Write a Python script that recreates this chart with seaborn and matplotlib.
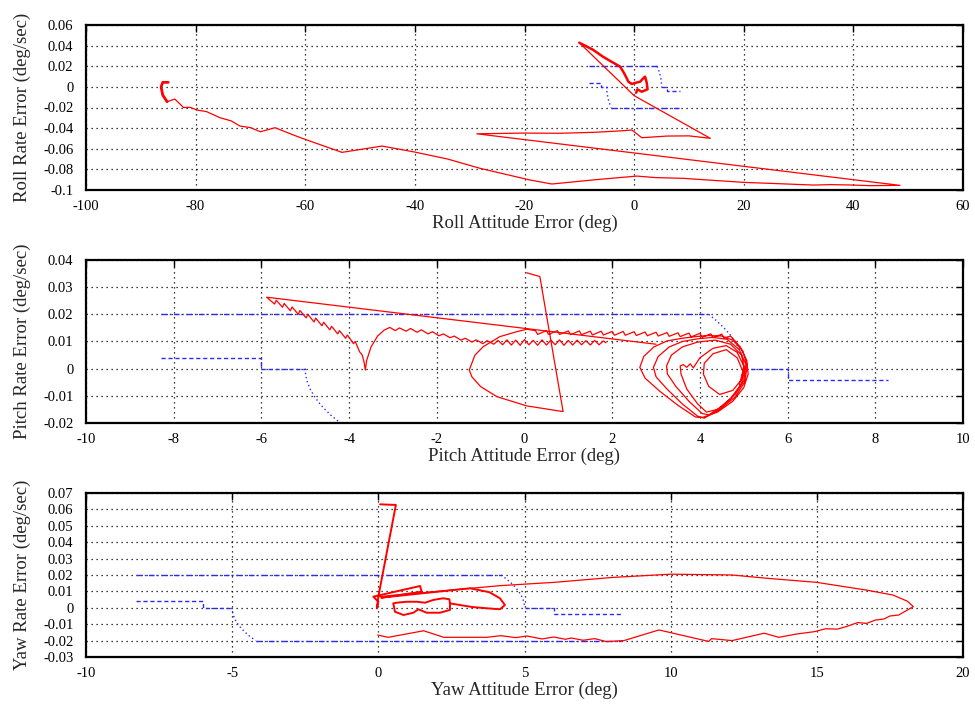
import matplotlib
matplotlib.use("Agg")
import matplotlib.pyplot as plt
import seaborn as sns

# --- Switching lines (same for all three axes) ---
SW_UP_X = [-8.3, 4.2]
SW_UP_Y = [0.02, 0.02]
SW_UP_CURVE_X = [4.2, 4.39, 4.55, 4.69, 4.80, 4.89, 4.95, 4.99, 5.0]
SW_UP_CURVE_Y = [0.02, 0.0175, 0.015, 0.0125, 0.01, 0.0075, 0.005, 0.0025, 0.0]
SW_UP_DEAD_X = [5.0, 6.0, 6.0, 8.3]
SW_UP_DEAD_Y = [0.0, 0.0, -0.004, -0.004]
SW_LO_DEAD_X = [-8.3, -6.0, -6.0, -5.0]
SW_LO_DEAD_Y = [0.004, 0.004, 0.0, 0.0]
SW_LO_CURVE_X = [-5.0, -4.99, -4.95, -4.89, -4.80, -4.69, -4.55, -4.39, -4.2]
SW_LO_CURVE_Y = [0.0, -0.0025, -0.005, -0.0075, -0.01, -0.0125, -0.015, -0.0175, -0.02]
SW_LO_X = [-4.2, 8.3]
SW_LO_Y = [-0.02, -0.02]

# --- Roll ---
ROLL_HOOK_X = [-85.0, -86.0, -86.3, -86.0, -85.2]
ROLL_HOOK_Y = [0.0044, 0.0044, 0.0000, -0.0080, -0.0144]
ROLL_X = [-85.2, -83.8, -82.2, -81.0, -79.8, -78.0, -75.5, -73.5, -71.9, -70.0,
          -68.2, -65.5, -62.0, -59.7, -53.3, -46.0, -40.3, -34.0, -28.1, -19.0,
          -15.0, -7.0, 0.5, 4.0, 9.0, 14.0, 20.0, 26.0, 32.7, 36.0, 40.0, 43.0, 48.5,
          -28.7, -20.0, -13.5, -7.0, -1.95, -0.42, 1.4, 5.96, 10.0, 13.9,
          0.0, -10.0]
ROLL_Y = [-0.0144, -0.0118, -0.0200, -0.0198, -0.0224, -0.0240, -0.0300, -0.0330, -0.0380, -0.0395,
          -0.0435, -0.0396, -0.0470, -0.0515, -0.0635, -0.0574, -0.0629, -0.0700, -0.0790, -0.0903,
          -0.0942, -0.0900, -0.0865, -0.0880, -0.0887, -0.0905, -0.0926, -0.0938, -0.0952, -0.0948, -0.0952, -0.0958, -0.0955,
          -0.0455, -0.0448, -0.0450, -0.0440, -0.0425, -0.0418, -0.0493, -0.0477, -0.0475, -0.0499,
          -0.0085, 0.0428]
ROLL_LOOP_X = [-10.0, -7.5, -5.7, -4.0, -2.55, -1.8, -1.04, -0.42, 0.3, 1.1, 1.6, 2.0,
               2.3, 2.45, 1.4, 0.6, 0.36]
ROLL_LOOP_Y = [0.0428, 0.0360, 0.0293, 0.0240, 0.0196, 0.0130, 0.0050, 0.0028, 0.0040, 0.0050, 0.0080, 0.0099,
               0.0040, -0.0024, -0.0047, -0.0024, -0.0057]

# --- Pitch ---
PITCH_A_X = [0.05, 0.35, 0.88, 0.05, -0.63, -1.00, -1.20, -1.26, -1.13, -0.94, -0.56, -0.18, 0.05,
             0.25, 0.30, 0.50, 0.55, 0.75, 0.80, 1.00, 1.05, 1.25, 1.30, 1.50, 1.55, 1.75, 1.80,
             2.00, 2.05, 2.25, 2.30, 2.50, 2.55, 2.75, 2.80, 3.00, 3.05, 3.25, 3.30, 3.50, 3.55,
             3.75, 3.80, 4.00, 4.05, 4.25, 4.30, 4.50, 4.55, 4.70,
             4.92, 5.07, 5.10, 5.00, 4.75, 4.40, 4.05, 3.90, 3.50, 3.10, 2.75, 2.63, 2.72, 2.95,
             3.25, 3.60, 3.90, 4.20, 4.50, 4.75, 4.98, 5.08, 5.02, 4.80, 4.45, 4.10, 3.95, 3.60,
             3.25, 3.00, 2.94, 3.05, 3.30, 3.60, 3.95, 4.30, 4.62, 4.90, 5.05, 5.00, 4.80, 4.50,
             4.20, 4.05, 3.75, 3.45, 3.26, 3.24, 3.35, 3.60, 3.95, 4.35, 4.70, 4.95, 5.02, 4.95,
             4.70, 4.40, 4.15, 3.95, 3.70, 3.57, 3.55, 3.62, 3.70, 3.78, 3.85, 4.00, 4.30, 4.60,
             4.85, 5.00, 4.95, 4.75, 4.45, 4.20, 4.08, 4.10, 4.30, 4.60, 4.85, 4.98, 4.90]
PITCH_A_Y = [0.0353, 0.0339, -0.0158, -0.0137, -0.0103, -0.0066, -0.0030, -0.0005, 0.0050, 0.0081, 0.0118, 0.0136, 0.0145,
             0.0140, 0.0126, 0.0140, 0.0126, 0.0140, 0.0126, 0.0139, 0.0125, 0.0139, 0.0125, 0.0138, 0.0124,
             0.0138, 0.0124, 0.0137, 0.0123, 0.0137, 0.0123, 0.0136, 0.0122, 0.0135, 0.0121, 0.0134, 0.0120,
             0.0133, 0.0119, 0.0132, 0.0118, 0.0131, 0.0117, 0.0130, 0.0116, 0.0128, 0.0114, 0.0127, 0.0113, 0.0120,
             0.0080, 0.0030, -0.0020, -0.0070, -0.0120, -0.0160, -0.0180, -0.0178, -0.0135, -0.0085, -0.0035, 0.0005, 0.0045, 0.0080,
             0.0102, 0.0112, 0.0118, 0.0122, 0.0120, 0.0105, 0.0065, 0.0010, -0.0050, -0.0105, -0.0150, -0.0182, -0.0175, -0.0130,
             -0.0075, -0.0030, 0.0005, 0.0045, 0.0080, 0.0100, 0.0110, 0.0115, 0.0108, 0.0070, 0.0015, -0.0045, -0.0095, -0.0140,
             -0.0170, -0.0165, -0.0120, -0.0065, -0.0020, 0.0010, 0.0050, 0.0080, 0.0098, 0.0105, 0.0090, 0.0050, 0.0000, -0.0055,
             -0.0110, -0.0150, -0.0160, -0.0130, -0.0075, -0.0020, 0.0010, 0.0015, 0.0005, 0.0018, 0.0003, 0.0040, 0.0075, 0.0085,
             0.0060, 0.0010, -0.0040, -0.0080, -0.0095, -0.0065, -0.0020, 0.0020, 0.0055, 0.0070, 0.0040, -0.0010, -0.0060]
PITCH_B_X = [3.0, -5.88, -5.70, -5.66, -5.52, -5.48, -5.34, -5.30, -5.16, -5.12, -4.98, -4.94,
             -4.80, -4.76, -4.62, -4.58, -4.44, -4.40, -4.26, -4.22, -4.08, -4.04, -3.90, -3.86,
             -3.76, -3.70, -3.66, -3.63,
             -3.60, -3.50, -3.35, -3.20, -3.07, -2.95, -2.85, -2.70, -2.60, -2.45, -2.35, -2.20,
             -2.10, -1.95, -1.85, -1.70, -1.60, -1.45, -1.35, -1.20, -1.10, -0.95, -0.85, -0.70, -0.60,
             -0.50, -0.40, -0.30, -0.20, -0.10, 0.00, 0.10, 0.20, 0.30, 0.40, 0.50, 0.60, 0.70,
             0.80, 0.90, 1.00, 1.10, 1.20, 1.30, 1.40, 1.50, 1.60, 1.70, 1.80, 1.86]
PITCH_B_Y = [0.0090, 0.0263, 0.0238, 0.0252, 0.0226, 0.0240, 0.0213, 0.0227, 0.0200, 0.0214, 0.0187, 0.0200,
             0.0172, 0.0186, 0.0158, 0.0171, 0.0143, 0.0156, 0.0128, 0.0140, 0.0112, 0.0124, 0.0092, 0.0100,
             0.0062, 0.0050, 0.0025, -0.0005,
             0.0030, 0.0080, 0.0120, 0.0142, 0.0152, 0.0140, 0.0150, 0.0138, 0.0148, 0.0134, 0.0143, 0.0128,
             0.0136, 0.0121, 0.0128, 0.0114, 0.0120, 0.0105, 0.0112, 0.0098, 0.0106, 0.0092, 0.0103, 0.0090, 0.0104,
             0.0088, 0.0106, 0.0087, 0.0105, 0.0086, 0.0107, 0.0088, 0.0104, 0.0086, 0.0106, 0.0087, 0.0105, 0.0088,
             0.0106, 0.0086, 0.0104, 0.0087, 0.0105, 0.0088, 0.0103, 0.0087, 0.0104, 0.0088, 0.0102, 0.0095]

# --- Yaw ---
YAW_A_X = [0.06, 0.60, 0.00, -0.05, 0.00, -0.17, 1.43, 1.48, 0.10, 3.14, 3.80, 4.16, 4.33, 4.16,
           3.71, 3.20, 2.45, 2.43, 2.22, 1.88, 1.60, 1.31, 0.97, 0.63, 0.51, 0.57, 0.86, 1.20,
           1.37, 1.65, 2.11, 2.45, 2.45]
YAW_A_Y = [0.0631, 0.0627, 0.0068, -0.0003, 0.0037, 0.0068, 0.0133, 0.0098, 0.0062, 0.0119, 0.0095, 0.0058, 0.0017, -0.0009,
           -0.0003, 0.0005, 0.0027, 0.0052, 0.0058, 0.0048, 0.0031, 0.0037, 0.0037, 0.0031, 0.0027, -0.0024, -0.0044, -0.0030,
           -0.0009, -0.0030, -0.0030, -0.0013, 0.0027]
YAW_B_X = [0.00, 2.0, 4.16, 6.0, 8.0, 10.0, 12.1, 13.3, 15.0, 16.7, 17.6, 18.1, 18.3,
           17.8, 17.5, 17.3, 17.0, 16.7, 16.4, 16.0, 15.7, 15.3, 14.9, 14.3, 13.7, 13.2, 12.1, 11.4, 11.3, 9.6,
           8.4, 7.8, 7.4, 7.0, 6.6, 6.4, 6.0, 5.6, 5.08, 4.7, 4.2, 3.7, 2.24, 1.55, 0.34, -0.02]
YAW_B_Y = [0.0068, 0.0100, 0.0135, 0.0155, 0.0185, 0.0205, 0.0200, 0.0180, 0.0155, 0.0108, 0.0078, 0.0040, 0.0007,
           -0.0044, -0.0050, -0.0068, -0.0075, -0.0095, -0.0090, -0.0115, -0.0130, -0.0128, -0.0146, -0.0160, -0.0180, -0.0155, -0.0200, -0.0188, -0.0205, -0.0135,
           -0.0200, -0.0206, -0.0188, -0.0198, -0.0184, -0.0192, -0.0178, -0.0190, -0.0172, -0.0182, -0.0170, -0.0180, -0.0180, -0.0140, -0.0180, -0.0166]

# --- Axis settings ---
ROLL_XTICKS = [-100, -80, -60, -40, -20, 0, 20, 40, 60]
ROLL_YTICKS = [-0.1, -0.08, -0.06, -0.04, -0.02, 0, 0.02, 0.04, 0.06]
PITCH_XTICKS = [-10, -8, -6, -4, -2, 0, 2, 4, 6, 8, 10]
PITCH_YTICKS = [-0.02, -0.01, 0, 0.01, 0.02, 0.03, 0.04]
YAW_XTICKS = [-10, -5, 0, 5, 10, 15, 20]
YAW_YTICKS = [-0.03, -0.02, -0.01, 0, 0.01, 0.02, 0.03, 0.04, 0.05, 0.06, 0.07]

RED = "#ff0000"
BLUE = "#2a2aff"
FONT = "Liberation Serif"


def red_line(ax, x, y, lw=0.9):
    sns.lineplot(x=x, y=y, sort=False, estimator=None, color=RED, lw=lw, ax=ax)


def switch_lines(ax):
    sns.lineplot(x=SW_UP_X, y=SW_UP_Y, sort=False, estimator=None, color=BLUE, lw=1.0,
                 linestyle=(0, (4, 2, 1, 2)), ax=ax)
    sns.lineplot(x=SW_UP_CURVE_X, y=SW_UP_CURVE_Y, sort=False, estimator=None, color=BLUE, lw=1.0,
                 linestyle=(0, (1, 2)), ax=ax)
    sns.lineplot(x=SW_UP_DEAD_X, y=SW_UP_DEAD_Y, sort=False, estimator=None, color=BLUE, lw=1.0,
                 linestyle=(0, (3, 2)), ax=ax)
    sns.lineplot(x=SW_LO_DEAD_X, y=SW_LO_DEAD_Y, sort=False, estimator=None, color=BLUE, lw=1.0,
                 linestyle=(0, (3, 2)), ax=ax)
    sns.lineplot(x=SW_LO_CURVE_X, y=SW_LO_CURVE_Y, sort=False, estimator=None, color=BLUE, lw=1.0,
                 linestyle=(0, (1, 2)), ax=ax)
    sns.lineplot(x=SW_LO_X, y=SW_LO_Y, sort=False, estimator=None, color=BLUE, lw=1.0,
                 linestyle=(0, (4, 2, 1, 2)), ax=ax)


def style_axes(ax, xticks, yticks, xlabel, ylabel, height_px):
    ax.set_xlim(xticks[0], xticks[-1])
    ax.set_ylim(yticks[0], yticks[-1])
    ax.set_xticks(xticks)
    ax.set_yticks(yticks)
    ax.set_xticklabels([f"{v:g}" for v in xticks], fontfamily=FONT, fontsize=10.5)
    ax.set_yticklabels([f"{v:g}" for v in yticks], fontfamily=FONT, fontsize=10.5)
    ax.tick_params(direction="in", length=5, width=1, top=True, right=True, colors="black")
    ax.tick_params(axis="x", pad=7)
    ax.tick_params(axis="y", pad=9)
    ax.grid(True, color="black", linestyle=(0, (1, 3)), lw=0.9)
    for sp in ax.spines.values():
        sp.set_linewidth(1.6)
        sp.set_color("black")
    ax.set_xlabel(xlabel, fontfamily=FONT, fontsize=13.5, va="center")
    ax.set_ylabel(ylabel, fontfamily=FONT, fontsize=13.5, va="center")
    ax.xaxis.set_label_coords(0.5, -33.0 / height_px)
    ax.yaxis.set_label_coords(-64.0 / 877.0, 0.5)


sns.set_style("white")
fig = plt.figure(figsize=(9.75, 7.04), dpi=100)

# Roll
ax1 = fig.add_axes([86 / 975, 1 - 190 / 704, 877 / 975, 165 / 704])
switch_lines(ax1)
red_line(ax1, ROLL_X, ROLL_Y)
red_line(ax1, ROLL_HOOK_X, ROLL_HOOK_Y, lw=2.0)
red_line(ax1, ROLL_LOOP_X, ROLL_LOOP_Y, lw=1.8)
style_axes(ax1, ROLL_XTICKS, ROLL_YTICKS, "Roll Attitude Error (deg)", "Roll Rate Error (deg/sec)", 165)

# Pitch
ax2 = fig.add_axes([86 / 975, 1 - 423 / 704, 877 / 975, 163 / 704])
switch_lines(ax2)
red_line(ax2, PITCH_A_X, PITCH_A_Y)
red_line(ax2, PITCH_B_X, PITCH_B_Y)
style_axes(ax2, PITCH_XTICKS, PITCH_YTICKS, "Pitch Attitude Error (deg)", "Pitch Rate Error (deg/sec)", 163)

# Yaw
ax3 = fig.add_axes([86 / 975, 1 - 657 / 704, 877 / 975, 164 / 704])
switch_lines(ax3)
red_line(ax3, YAW_A_X, YAW_A_Y, lw=1.4)
red_line(ax3, YAW_B_X, YAW_B_Y)
style_axes(ax3, YAW_XTICKS, YAW_YTICKS, "Yaw Attitude Error (deg)", "Yaw Rate Error (deg/sec)", 164)

fig.savefig("out.png", dpi=100)
plt.close(fig)
